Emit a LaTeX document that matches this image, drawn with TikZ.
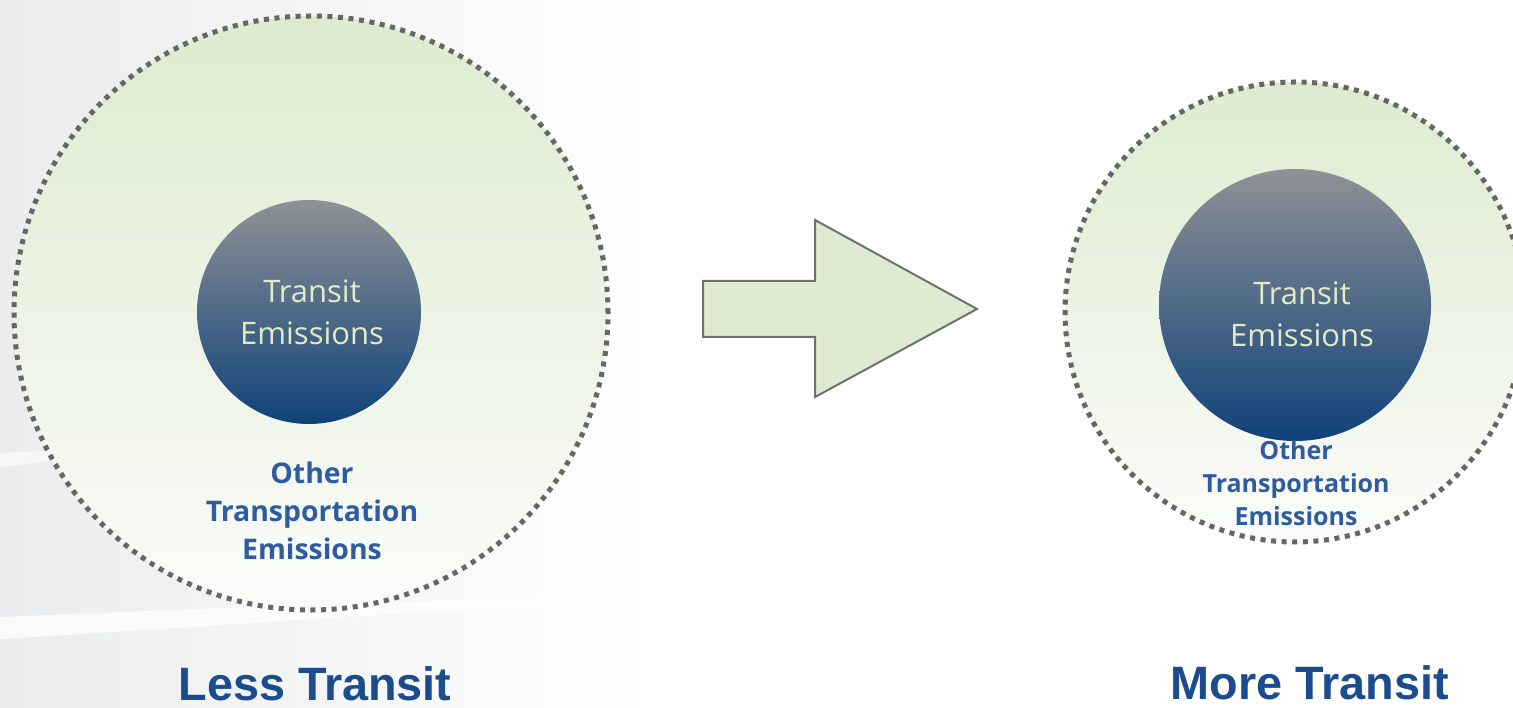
\documentclass[tikz,border=0pt]{standalone}
\usepackage{fontspec}
\setmainfont{Open Sans}
\newfontfamily\capfont{Liberation Sans}
\usepackage{tikz}
\definecolor{ringgray}{HTML}{666666}
\definecolor{ringtop}{HTML}{DDEBCF}
\definecolor{ringbot}{HTML}{FBFCFA}
\definecolor{coretop}{HTML}{8F9196}
\definecolor{corebot}{HTML}{0F4279}
\definecolor{coretext}{HTML}{E3EBC5}
\definecolor{otherblue}{HTML}{2F5C9E}
\definecolor{capblue}{HTML}{1A4C8E}
\definecolor{arrowfill}{HTML}{DFEBD1}
\definecolor{arrowline}{HTML}{707070}
\definecolor{bggray}{HTML}{EBECED}

\begin{document}
\begin{tikzpicture}[
  x=0.5pt,y=0.5pt,
  ring/.style={circle,draw=ringgray,line width=2.5pt,dash pattern=on 2.5pt off 2.8pt,top color=ringtop,bottom color=ringbot,inner sep=0pt},
  core/.style={circle,top color=coretop,bottom color=corebot,inner sep=0pt},
  coretxt/.style={align=center,text=coretext,inner sep=0pt,font=\fontsize{15.5}{21}\selectfont},
  othertxt/.style={align=center,text=otherblue,inner sep=0pt,font=\bfseries\fontsize{14.2}{19}\selectfont},
  smallother/.style={othertxt,font=\bfseries\fontsize{12.5}{16.5}\selectfont},
  captxt/.style={anchor=base,text=capblue,inner sep=0pt,font=\capfont\bfseries\fontsize{23.4}{28}\selectfont}
]
\useasboundingbox (0,0) rectangle (1513,707);
\fill[white] (0,0) rectangle (1513,707);
\shade[left color=bggray,right color=white] (0,0) rectangle (660,707);
\fill[white,opacity=0.75] (0,90) .. controls (200,98) and (420,108) .. (680,110) .. controls (420,96) and (200,80) .. (0,68) -- cycle;
\fill[white,opacity=0.6] (0,254) .. controls (40,256) and (80,258) .. (120,258) .. controls (80,250) and (40,244) .. (0,240) -- cycle;

\node[ring,minimum size=297pt] (lessring) at (311,394) {};
\node[core,minimum size=112pt] (lesscore) at (309,395) {};
\node[coretxt] (lesstxt) at (312,395) {Transit\\Emissions};
\node[othertxt] (lessother) at (312,196) {Other\\Transportation\\Emissions};

\node[ring,minimum size=230pt] (morering) at (1295,395) {};
\node[core,minimum size=136pt] (morecore) at (1295,402) {};
\node[coretxt] (moretxt) at (1302,393) {Transit\\Emissions};
\node[smallother] (moreother) at (1296,224) {Other\\Transportation\\Emissions};

\filldraw[fill=arrowfill,draw=arrowline,line width=1pt,line join=miter]
  (703,426) -- (815,426) -- (815,487) -- (977,398) -- (815,310) -- (815,370) -- (703,370) -- cycle;

\node[captxt] (lesscap) at (315,7) {Less Transit};
\node[captxt] (morecap) at (1310,8) {More Transit};
\end{tikzpicture}
\end{document}
